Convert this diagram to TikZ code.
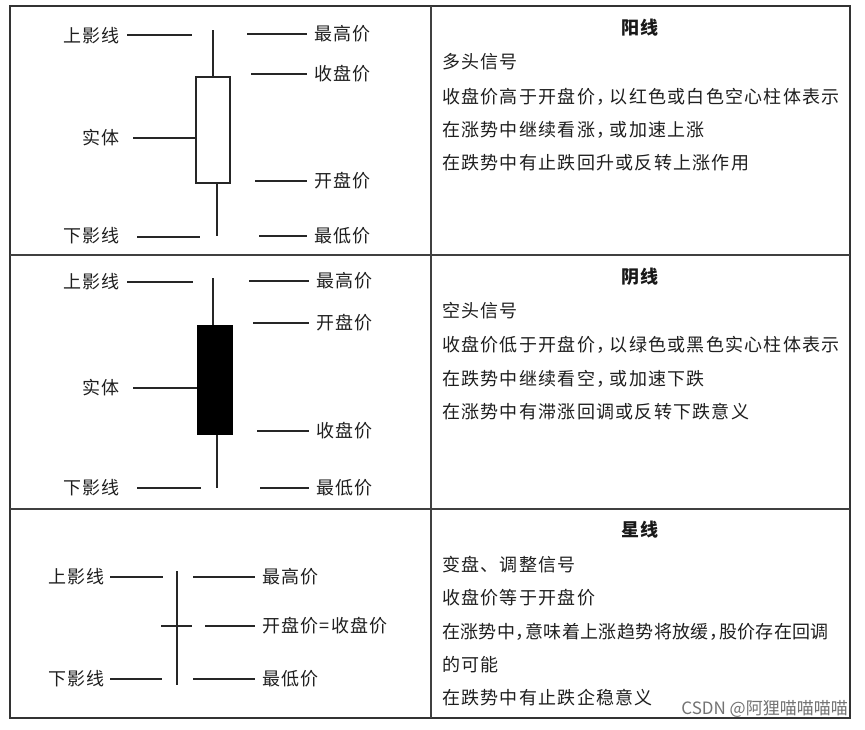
\documentclass[tikz,border=0pt]{standalone}
\usepackage{fontspec}
\newfontfamily\cjk[LetterSpace=7]{Noto Sans CJK SC}
\newfontfamily\cjkw[LetterSpace=2]{Noto Sans CJK SC}
\newfontfamily\cjkt{Noto Sans CJK SC}
\newcommand{\zc}{，\kern-0.25em}
\newcommand{\zcc}{，\kern-0.45em}
\begin{document}
\begin{tikzpicture}[x=1pt,y=-1pt,
  txt/.style={font=\cjk\fontsize{18}{18}\selectfont, text=black!88, inner sep=0pt},
  ttl/.style={font=\cjk\bfseries\fontsize{18}{18}\selectfont, text=black!90, inner sep=0pt},
  lbl/.style={txt},
  conn/.style={line width=1.1pt, black!85},
  wick/.style={line width=1.4pt, black!85},
  frame/.style={line width=2pt, black!80},
  grid/.style={line width=1.3pt, black!75}]
\useasboundingbox (0,0) rectangle (865,729);
\fill[white] (0,0) rectangle (865,729);
% frame and grid
\draw[frame] (10,6) rectangle (850,718);
\draw[grid] (10,255) -- (850,255);
\draw[grid] (10,509) -- (850,509);
\draw[grid] (431,6) -- (431,718);

% ---------- Row 1: yang candle ----------
\coordinate (y1t) at (213,30);
\coordinate (y1b) at (217,236);
\node[draw=black!85, line width=1.3pt, minimum width=34pt, minimum height=106pt, inner sep=0pt, fill=white] (body1) at (213,130) {};
\draw[wick] (y1t) -- (body1.north -| y1t);
\draw[wick] (body1.south -| y1b) -- (y1b);
\node[lbl, anchor=east] (a1) at (120,36) {上影线};
\node[lbl, anchor=east] (b1) at (120,138) {实体};
\node[lbl, anchor=east] (c1) at (120,236) {下影线};
\node[lbl, anchor=west] (d1) at (314,34) {最高价};
\node[lbl, anchor=west] (e1) at (314,74) {收盘价};
\node[lbl, anchor=west] (f1) at (314,181) {开盘价};
\node[lbl, anchor=west] (g1) at (314,236) {最低价};
\coordinate (a1e) at (192,35);
\coordinate (c1e) at (200,237);
\coordinate (d1s) at (247,34);
\coordinate (e1s) at (251,74);
\coordinate (f1s) at (255,181);
\coordinate (g1s) at (259,236);
\draw[conn] ([xshift=7pt]a1.east |- a1e) -- (a1e);
\draw[conn] ([xshift=13pt]b1.east) -- (body1.west |- b1.east);
\draw[conn] ([xshift=17pt]c1.east |- c1e) -- (c1e);
\draw[conn] (d1s) -- ([xshift=-7pt]d1.west |- d1s);
\draw[conn] (e1s) -- ([xshift=-7pt]e1.west |- e1s);
\draw[conn] (f1s) -- ([xshift=-7pt]f1.west |- f1s);
\draw[conn] (g1s) -- ([xshift=-7pt]g1.west |- g1s);

\node[ttl] (t1) at (640,28) {阳线};
\node[txt, anchor=west] (p11) at (442,62) {多头信号};
\node[txt, anchor=west] (p12) at (442,97) {收盘价高于开盘价\zc 以红色或白色空心柱体表示};
\node[txt, anchor=west] (p13) at (442,130) {在涨势中继续看涨\zc 或加速上涨};
\node[txt, anchor=west] (p14) at (442,163) {在跌势中有止跌回升或反转上涨作用};

% ---------- Row 2: yin candle ----------
\coordinate (y2t) at (213,278);
\coordinate (y2b) at (217,488);
\node[draw=black, line width=1pt, minimum width=35pt, minimum height=109pt, inner sep=0pt, fill=black] (body2) at (214.5,379.5) {};
\draw[wick] (y2t) -- (body2.north -| y2t);
\draw[wick] (body2.south -| y2b) -- (y2b);
\node[lbl, anchor=east] (a2) at (120,282) {上影线};
\node[lbl, anchor=east] (b2) at (120,388) {实体};
\node[lbl, anchor=east] (c2) at (120,488) {下影线};
\node[lbl, anchor=west] (d2) at (316,281) {最高价};
\node[lbl, anchor=west] (e2) at (316,323) {开盘价};
\node[lbl, anchor=west] (f2) at (316,431) {收盘价};
\node[lbl, anchor=west] (g2) at (316,488) {最低价};
\coordinate (a2e) at (193,282);
\coordinate (c2e) at (201,488);
\coordinate (d2s) at (249,281);
\coordinate (e2s) at (253,323);
\coordinate (f2s) at (257,431);
\coordinate (g2s) at (260,488);
\draw[conn] ([xshift=7pt]a2.east |- a2e) -- (a2e);
\draw[conn] ([xshift=13pt]b2.east) -- (body2.west |- b2.east);
\draw[conn] ([xshift=17pt]c2.east |- c2e) -- (c2e);
\draw[conn] (d2s) -- ([xshift=-7pt]d2.west |- d2s);
\draw[conn] (e2s) -- ([xshift=-7pt]e2.west |- e2s);
\draw[conn] (f2s) -- ([xshift=-7pt]f2.west |- f2s);
\draw[conn] (g2s) -- ([xshift=-7pt]g2.west |- g2s);

\node[ttl] (t2) at (640,277) {阴线};
\node[txt, anchor=west] (p21) at (442,311) {空头信号};
\node[txt, anchor=west] (p22) at (442,345) {收盘价低于开盘价\zc 以绿色或黑色实心柱体表示};
\node[txt, anchor=west] (p23) at (442,379) {在跌势中继续看空\zc 或加速下跌};
\node[txt, anchor=west] (p24) at (442,412) {在涨势中有滞涨回调或反转下跌意义};

% ---------- Row 3: doji ----------
\coordinate (s3t) at (177,571);
\coordinate (s3b) at (177,685);
\coordinate (x3l) at (161,626);
\coordinate (x3r) at (192,626);
\draw[wick] (s3t) -- (s3b);
\draw[wick] (x3l) -- (x3r);
\node[lbl, anchor=east] (a3) at (105,577) {上影线};
\node[lbl, anchor=east] (c3) at (105,679) {下影线};
\node[lbl, anchor=west] (d3) at (262,577) {最高价};
\node[lbl, anchor=west] (e3) at (262,626) {开盘价=收盘价};
\node[lbl, anchor=west] (g3) at (262,679) {最低价};
\coordinate (a3e) at (163,577);
\coordinate (c3e) at (162,679);
\coordinate (d3s) at (193,577);
\coordinate (e3s) at (205,626);
\coordinate (g3s) at (193,679);
\draw[conn] ([xshift=5pt]a3.east |- a3e) -- (a3e);
\draw[conn] ([xshift=5pt]c3.east |- c3e) -- (c3e);
\draw[conn] (d3s) -- ([xshift=-7pt]d3.west |- d3s);
\draw[conn] (e3s) -- ([xshift=-7pt]e3.west |- e3s);
\draw[conn] (g3s) -- ([xshift=-7pt]g3.west |- g3s);

\node[ttl] (t3) at (640,530) {星线};
\node[txt, anchor=west] (p31) at (442,565) {变盘、调整信号};
\node[txt, anchor=west] (p32) at (442,598) {收盘价等于开盘价};
\node[txt, font=\cjkw\fontsize{18}{18}\selectfont, anchor=west] (p33) at (442,632) {在涨势中\zcc 意味着上涨趋势将放缓\zcc 股价存在回调};
\node[txt, anchor=west] (p34) at (442,665) {的可能};
\node[txt, anchor=west] (p35) at (442,698) {在跌势中有止跌企稳意义};

% watermark
\node[font=\cjkt\fontsize{17}{17}\selectfont, text=black!55, inner sep=0pt, anchor=east] (wm) at (848,709) {CSDN @阿狸喵喵喵喵};
\end{tikzpicture}
\end{document}
